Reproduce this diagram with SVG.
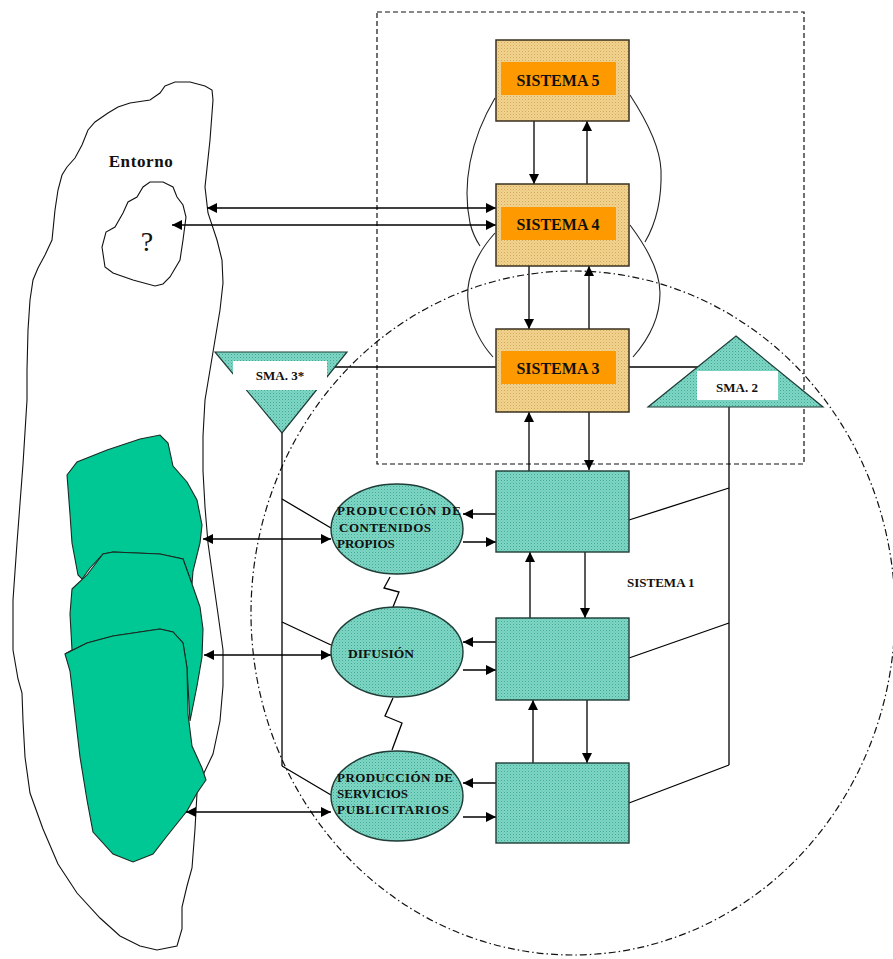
<svg xmlns="http://www.w3.org/2000/svg" width="893" height="959" viewBox="0 0 893 959">
<style>
.ln{stroke:#000;stroke-width:1.3;fill:none}
.cv{stroke:#222;stroke-width:1.1;fill:none}
.tan{fill:url(#pTan);stroke:#3a3020;stroke-width:1.5}
.org{fill:#FF9900;stroke:none}
.teal{fill:url(#pTeal);stroke:#1f3d36;stroke-width:1.4}
.lbl{font-family:"Liberation Serif","Times New Roman",serif;font-weight:bold;fill:#111}
.grn{fill:#00C894;stroke:#1a2a22;stroke-width:1.1}
</style>
<defs>
<pattern id="pTan" width="3" height="3" patternUnits="userSpaceOnUse">
<rect width="3" height="3" fill="#F2D38E"/><rect width="1" height="1" fill="#D2A85A"/><rect x="1.5" y="1.5" width="1" height="1" fill="#E0BC72"/>
</pattern>
<pattern id="pTeal" width="3" height="3" patternUnits="userSpaceOnUse">
<rect width="3" height="3" fill="#7FD6C4"/><rect width="1" height="1" fill="#3FA996"/><rect x="1.5" y="1.5" width="1" height="1" fill="#5CC0AE"/>
</pattern>
<marker id="ah" viewBox="0 0 10 10" refX="10" refY="5" markerWidth="11" markerHeight="10" markerUnits="userSpaceOnUse" orient="auto-start-reverse">
<path d="M0,0 L10,5 L0,10 Z" fill="#000"/>
</marker>
</defs>
<rect width="893" height="959" fill="#fff"/>

<g id="entorno">
<path fill="#fff" stroke="#111" stroke-width="1.1" d="M165,86 L175,82 L190,82 L205,86 L212,90 L213,100 L210,140 L205,187 L208,213 L217,240 L222,260 L223,283 L220,310 L215,340 L210,370 L205,400 L203,436 L203,471 L205,507 L208,543 L213,579 L218,614 L223,650 L223,686 L220,721 L213,754 L203,775 L197,793 L195,829 L192,868 L187,886 L182,907 L182,929 L177,946 L157,950 L140,946 L120,936 L100,918 L77,893 L58,864 L43,829 L30,793 L25,757 L23,721 L22,693 L18,679 L13,650 L13,600 L17,543 L23,464 L27,400 L27,370 L28,330 L30,300 L33,280 L38,268 L45,255 L52,240 L55,210 L58,190 L62,175 L67,167 L75,158 L82,145 L88,130 L95,122 L108,113 L118,107 L130,103 L150,100 L160,93 Z"/>
<text class="lbl" x="141" y="167" font-size="17" text-anchor="middle" letter-spacing="0.6">Entorno</text>
</g>

<g id="desconocido">
<path fill="#fff" stroke="#111" stroke-width="1.1" d="M150,182 L163,182 L173,187 L177,197 L183,205 L186,217 L183,240 L180,260 L170,277 L163,284 L155,286 L133,280 L113,273 L105,267 L102,247 L106,232 L115,227 L123,213 L128,202 L137,197 L143,187 Z"/>
<text x="147" y="251" font-family="Liberation Serif,serif" font-size="28" text-anchor="middle" fill="#111">?</text>
</g>

<g id="mercado">
<path class="grn" d="M67,475 L77,462 L107,450 L140,439 L160,435 L168,443 L173,466 L187,482 L197,500 L202,525 L200,543 L193,571 L192,584 L183,559 L160,554 L113,552 L103,554 L90,568 L82,579 L78,575 L72,543 L70,514 Z"/>
<path class="grn" d="M72,589 L87,575 L103,554 L113,552 L160,554 L183,559 L192,584 L200,607 L203,629 L202,657 L197,686 L190,721 L187,668 L183,643 L173,632 L160,629 L113,636 L87,643 L65,654 L72,650 L70,614 Z"/>
<path class="grn" d="M65,654 L87,643 L113,636 L160,629 L173,632 L183,643 L187,668 L188,714 L192,746 L202,768 L206,780 L197,793 L187,811 L167,836 L153,854 L133,862 L113,854 L93,832 L87,800 L80,757 L75,714 L70,671 Z"/>
</g>

<g id="limite-sistema-1">
<ellipse cx="573" cy="613" rx="322" ry="342" fill="none" stroke="#111" stroke-width="1.2" stroke-dasharray="7 3 1.5 3"/>
</g>
<g id="limite-metasistema">
<rect x="377" y="12" width="427" height="452" fill="none" stroke="#111" stroke-width="1.2" stroke-dasharray="5 3"/>
</g>

<g id="connectors">
<path class="cv" d="M495,98 C470,140 462,185 470,223 C473,235 476,240 480,246"/>
<path class="cv" d="M495,233 C475,255 466,280 468,300 C470,325 482,345 493,357"/>
<path class="cv" d="M630,95 C645,118 660,145 661,170 C662,200 655,225 645,242"/>
<path class="cv" d="M630,225 C645,245 660,270 660,293 C660,318 648,340 633,357"/>
<path class="ln" d="M335,367 L496,367"/>
<path class="ln" d="M629,367 L698,367"/>
<path class="ln" d="M282,433 L282,766"/>
<path class="ln" d="M282,499 L331,528 M282,622 L331,645 M282,766 L331,795"/>
<path class="ln" d="M729,407 L729,765"/>
<path class="ln" d="M629,520 L729,488 M629,658 L729,623 M629,803 L729,765"/>
<path class="ln" d="M390,577 L384,588 L399,592 L393,607"/>
<path class="ln" d="M393,698 L385,716 L402,723 L392,750"/>
<path class="ln" marker-end="url(#ah)" d="M534,121 L534,184"/>
<path class="ln" marker-end="url(#ah)" d="M587,184 L587,121"/>
<path class="ln" marker-end="url(#ah)" d="M529,266 L529,329"/>
<path class="ln" marker-end="url(#ah)" d="M589,329 L589,266"/>
<path class="ln" marker-end="url(#ah)" d="M529,471 L529,412"/>
<path class="ln" marker-end="url(#ah)" d="M589,412 L589,470"/>
<path class="ln" marker-end="url(#ah)" d="M585,552 L585,618"/>
<path class="ln" marker-end="url(#ah)" d="M530,618 L530,552"/>
<path class="ln" marker-end="url(#ah)" d="M587,700 L587,763"/>
<path class="ln" marker-end="url(#ah)" d="M533,763 L533,700"/>
<path class="ln" marker-end="url(#ah)" d="M496,514 L463,514"/>
<path class="ln" marker-end="url(#ah)" d="M463,542 L496,542"/>
<path class="ln" marker-end="url(#ah)" d="M496,642 L463,642"/>
<path class="ln" marker-end="url(#ah)" d="M463,670 L496,670"/>
<path class="ln" marker-end="url(#ah)" d="M496,783 L463,783"/>
<path class="ln" marker-end="url(#ah)" d="M463,817 L496,817"/>
<path class="ln" marker-start="url(#ah)" marker-end="url(#ah)" d="M207,208 L496,208"/>
<path class="ln" marker-start="url(#ah)" marker-end="url(#ah)" d="M172,225 L496,225"/>
<path class="ln" marker-start="url(#ah)" marker-end="url(#ah)" d="M203,539 L331,539"/>
<path class="ln" marker-start="url(#ah)" marker-end="url(#ah)" d="M204,655 L331,655"/>
<path class="ln" marker-start="url(#ah)" marker-end="url(#ah)" d="M186,812 L331,812"/>
</g>

<g id="sistema-5">
<rect class="tan" x="496" y="40" width="133" height="81"/>
<rect class="org" x="501" y="62" width="115" height="33"/>
<text class="lbl" x="558" y="86" font-size="16" text-anchor="middle">SISTEMA 5</text>
</g>
<g id="sistema-4">
<rect class="tan" x="496" y="184" width="133" height="82"/>
<rect class="org" x="501" y="207" width="115" height="33"/>
<text class="lbl" x="558" y="230" font-size="16" text-anchor="middle">SISTEMA 4</text>
</g>
<g id="sistema-3">
<rect class="tan" x="496" y="329" width="133" height="83"/>
<rect class="org" x="501" y="351" width="115" height="33"/>
<text class="lbl" x="558" y="374" font-size="16" text-anchor="middle">SISTEMA 3</text>
</g>

<g id="sma-3b">
<path d="M215,352 L347,352 L282,433 Z" fill="url(#pTeal)" stroke="#1f3d36" stroke-width="1.2"/>
<rect x="233" y="361" width="94" height="29" fill="#fff"/>
<text class="lbl" x="280" y="380" font-size="13" text-anchor="middle">SMA. 3*</text>
</g>
<g id="sma-2">
<path d="M736,336 L823,407 L648,407 Z" fill="url(#pTeal)" stroke="#1f3d36" stroke-width="1.2"/>
<rect x="697" y="371" width="81" height="29" fill="#fff"/>
<text class="lbl" x="737" y="392" font-size="13" text-anchor="middle">SMA. 2</text>
</g>

<g id="op-contenidos">
<ellipse class="teal" cx="397" cy="529" rx="66" ry="45"/>
<text class="lbl" font-size="13"><tspan x="337" y="515" textLength="124" lengthAdjust="spacing">PRODUCCIÓN DE</tspan><tspan x="339" y="532" textLength="92" lengthAdjust="spacing">CONTENIDOS</tspan><tspan x="337" y="548">PROPIOS</tspan></text>
</g>
<g id="op-difusion">
<ellipse class="teal" cx="397" cy="652" rx="66" ry="45"/>
<text class="lbl" x="348" y="658" font-size="13.5">DIFUSIÓN</text>
</g>
<g id="op-publicidad">
<ellipse class="teal" cx="397" cy="796" rx="66" ry="45"/>
<text class="lbl" font-size="13"><tspan x="337" y="782" textLength="116" lengthAdjust="spacing">PRODUCCIÓN DE</tspan><tspan x="337" y="798">SERVICIOS</tspan><tspan x="337" y="814" textLength="112" lengthAdjust="spacing">PUBLICITARIOS</tspan></text>
</g>

<g id="s1-gestion-contenidos">
<rect class="teal" x="496" y="471" width="133" height="81"/>
</g>
<g id="s1-gestion-difusion">
<rect class="teal" x="496" y="618" width="133" height="82"/>
</g>
<g id="s1-gestion-publicidad">
<rect class="teal" x="496" y="763" width="133" height="80"/>
</g>
<g id="sistema-1-label">
<text class="lbl" x="627" y="587" font-size="13">SISTEMA 1</text>
</g>
</svg>
